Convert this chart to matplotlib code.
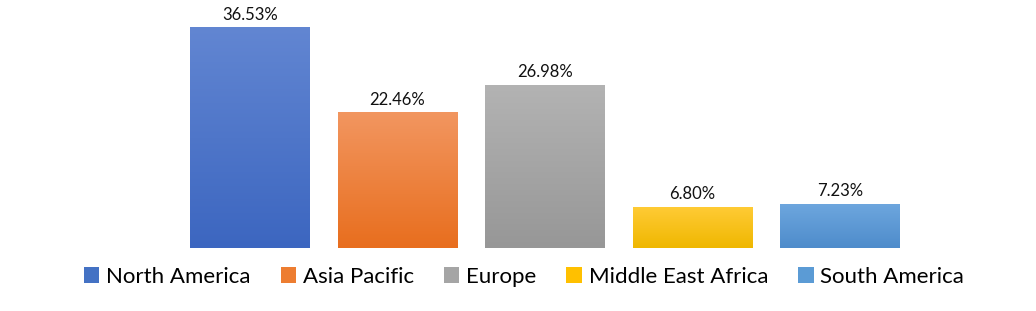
import matplotlib
matplotlib.use("Agg")
import matplotlib.pyplot as plt
import numpy as np
from matplotlib.colors import LinearSegmentedColormap
from matplotlib.patches import Patch

regions = ["North America", "Asia Pacific", "Europe", "Middle East Africa", "South America"]
shares = [36.53, 22.46, 26.98, 6.80, 7.23]
labels = ["36.53%", "22.46%", "26.98%", "6.80%", "7.23%"]
top_colors = ["#6286D2", "#F29660", "#B3B3B3", "#FFCB35", "#6DA6DE"]
bottom_colors = ["#3C66C0", "#E86E1E", "#979797", "#EFB700", "#4E8CCB"]
legend_colors = ["#4472C4", "#ED7D31", "#A5A5A5", "#FFC000", "#5B9BD5"]

plt.rcParams['font.family'] = ['Lato', 'DejaVu Sans']

fig = plt.figure(figsize=(10.36, 3.11), dpi=100)
ax = fig.add_axes([176/1036, 1-248/311, 737.5/1036, 241/311])
width = 0.81
x = np.arange(len(regions))
bars = ax.bar(x, shares, width=width, color="none", edgecolor="none")
for i, b in enumerate(bars):
    cmap = LinearSegmentedColormap.from_list("g", [bottom_colors[i], top_colors[i]])
    grad = np.linspace(0, 1, 256).reshape(-1, 1)
    x0 = b.get_x()
    ax.imshow(grad, cmap=cmap, origin="lower", aspect="auto",
              extent=[x0, x0 + b.get_width(), 0, b.get_height()], zorder=2)
    ax.text(b.get_x() + b.get_width()/2, b.get_height() + 0.85, labels[i],
            ha="center", va="bottom", fontsize=12, color="#111111")
ax.set_xlim(-0.5, 4.5)
ax.set_ylim(0, 40)
ax.axis("off")

handles = [Patch(facecolor=c, edgecolor="none") for c in legend_colors]
fig.legend(handles, regions, loc="center", bbox_to_anchor=(524/1036, 1-277/311),
           ncol=5, frameon=False, fontsize=16, handlelength=0.7, handleheight=0.7,
           handletextpad=0.3, columnspacing=1.35)
fig.savefig("out.png", dpi=100, facecolor="white")
